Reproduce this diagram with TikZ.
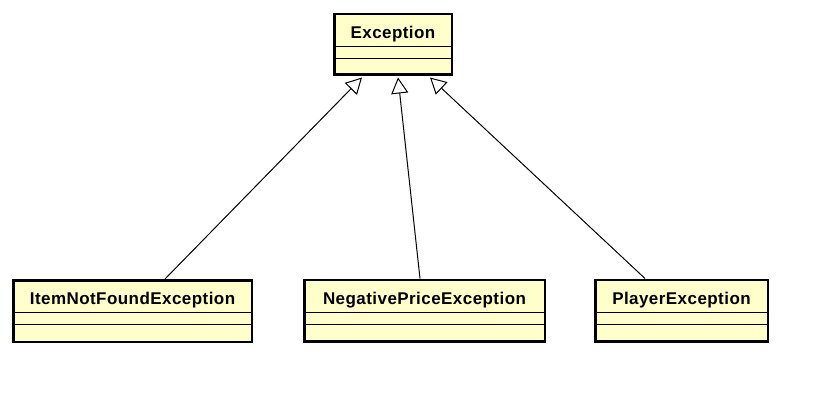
\documentclass[tikz,border=0pt]{standalone}
\usepackage{fontspec}
\setmainfont{Liberation Sans}
\newfontfamily\clsfont[LetterSpace=2.6]{Liberation Sans Bold}
\usetikzlibrary{arrows.meta,calc}
\definecolor{clsfill}{RGB}{255,255,204}
\tikzset{
  clsbox/.style={draw=black, fill=clsfill, line width=2.5pt, rectangle, inner sep=0pt},
  clsdiv/.style={draw=black, line width=1pt},
  clstitle/.style={font=\clsfont\fontsize{17}{20}\selectfont, inner sep=0pt, anchor=base},
  inherit/.style={draw=black, line width=1pt, -{Triangle[fill=white, length=16pt, width=17pt, line width=1pt]}}
}
\newcommand\umlcls[7]{% name, x, y, w, h, title, titlebase offset
  \node[clsbox, minimum width=#4, minimum height=#5] (#1) at (#2,#3) {};
  \draw[clsdiv] ([yshift=-33.5pt]#1.north west) -- ([yshift=-33.5pt]#1.north east);
  \draw[clsdiv] ([yshift=-45.5pt]#1.north west) -- ([yshift=-45.5pt]#1.north east);
  \node[clstitle] (#1-t) at ([yshift=-#7]#1.north) {#6};
}
\begin{document}
\begin{tikzpicture}[x=1pt, y=-1pt]
\useasboundingbox (0,0) rectangle (826,414);
\umlcls{exc}{393}{44.5}{117.5pt}{60.5pt}{Exception}{25.5pt}
\umlcls{item}{132.5}{311}{238.5pt}{61.5pt}{ItemNotFoundException}{25.5pt}
\umlcls{neg}{424.5}{310.5}{240.5pt}{61.5pt}{NegativePriceException}{25.5pt}
\umlcls{ply}{681.5}{310.5}{172.5pt}{61.5pt}{PlayerException}{25.5pt}
\draw[inherit] ([xshift=32.5pt]item.north) -- ([xshift=-31pt,yshift=-1.5pt]exc.south);
\draw[inherit] ([xshift=-4.5pt]neg.north) -- ([xshift=5pt,yshift=-1.5pt]exc.south);
\draw[inherit] ([xshift=-36.5pt]ply.north) -- ([xshift=37pt,yshift=-1.5pt]exc.south);
\end{tikzpicture}
\end{document}
